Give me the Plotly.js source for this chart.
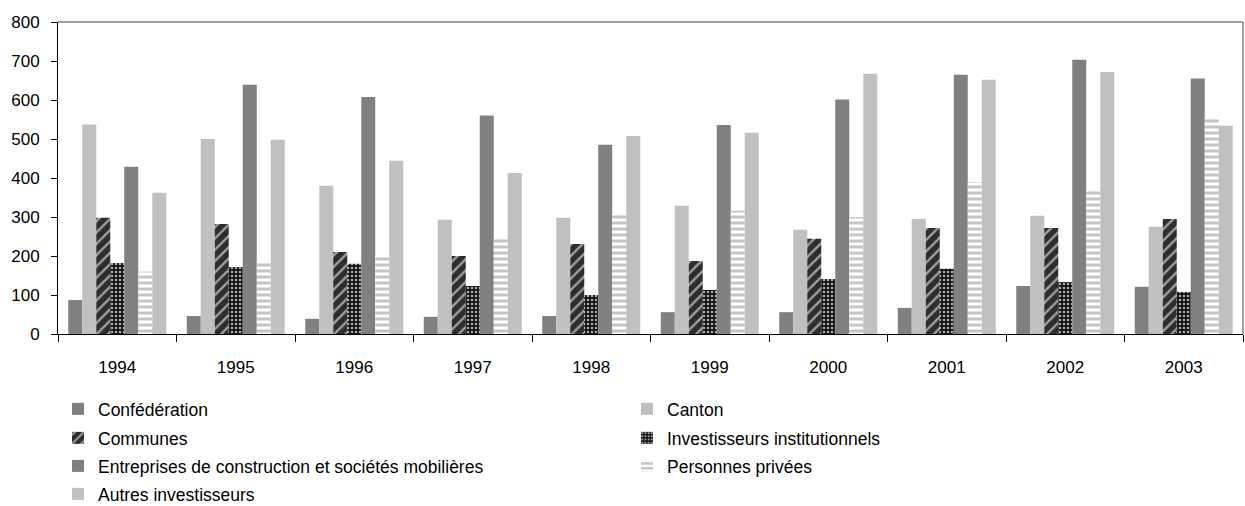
<!DOCTYPE html>
<html>
<head>
<meta charset="utf-8">
<script src="https://cdn.plot.ly/plotly-3.0.1.min.js"></script>
<style>html,body{margin:0;padding:0;background:#fff;}#chart{width:1245px;height:506px;}</style>
</head>
<body>
<div id="chart"></div>
<script>
const years = ['1994','1995','1996','1997','1998','1999','2000','2001','2002','2003'];
const confederation = [87, 46, 39, 44, 46, 56, 56, 67, 123, 121];
const canton = [537, 500, 380, 293, 298, 329, 267, 295, 303, 275];
const communes = [298, 282, 210, 200, 231, 187, 244, 272, 272, 295];
const investisseursInstitutionnels = [182, 172, 180, 123, 100, 113, 141, 167, 133, 108];
const entreprises = [429, 639, 608, 560, 485, 536, 601, 665, 703, 655];
const personnesPrivees = [160, 187, 200, 244, 308, 316, 300, 390, 367, 554];
const autresInvestisseurs = [362, 498, 444, 413, 508, 516, 667, 652, 672, 534];
const seriesNames = ['Confédération','Canton','Communes','Investisseurs institutionnels',
  'Entreprises de construction et sociétés mobilières','Personnes privées','Autres investisseurs'];

const FONT = '"Liberation Sans", Arial, sans-serif';

function bar(name, y, marker, legendId) {
  return {type: 'bar', name: name, x: years, y: y, marker: marker, legend: legendId, hoverinfo: 'x+y+name'};
}
const data = [
  bar(seriesNames[0], confederation, {color: '#808080', line: {width: 0}}, 'legend'),
  bar(seriesNames[1], canton, {color: '#c0c0c0', line: {width: 0}}, 'legend'),
  bar(seriesNames[2], communes, {color: '#2d2d2d', line: {width: 0},
    pattern: {shape: '/', bgcolor: '#2d2d2d', fgcolor: '#a0a0a0', size: 8, solidity: 0.3}}, 'legend2'),
  bar(seriesNames[3], investisseursInstitutionnels, {color: '#111111', line: {width: 0},
    pattern: {shape: '.', bgcolor: '#111111', fgcolor: '#a8a8a8', size: 4, solidity: 0.35}}, 'legend2'),
  bar(seriesNames[4], entreprises, {color: '#808080', line: {width: 0}}, 'legend3'),
  bar(seriesNames[5], personnesPrivees, {color: '#ffffff', line: {width: 0},
    pattern: {shape: '-', bgcolor: '#ffffff', fgcolor: '#c4c4c4', size: 6, solidity: 0.5}}, 'legend3'),
  bar(seriesNames[6], autresInvestisseurs, {color: '#c0c0c0', line: {width: 0}}, 'legend4')
];

function legendAt(y) {
  return {
    orientation: 'h', x: 0, xanchor: 'left', y: y, yanchor: 'top',
    entrywidth: 524, entrywidthmode: 'pixels',
    font: {family: FONT, size: 17.5, color: '#000000'},
    bgcolor: 'rgba(0,0,0,0)', borderwidth: 0, traceorder: 'normal'
  };
}

const layout = {
  width: 1245, height: 506,
  margin: {l: 58, r: 2, t: 22, b: 172, pad: 0, autoexpand: false},
  paper_bgcolor: '#ffffff', plot_bgcolor: '#ffffff',
  font: {family: FONT, size: 17, color: '#000000'},
  barmode: 'group', bargap: 0.173, bargroupgap: 0,
  showlegend: true,
  xaxis: {
    type: 'category', showgrid: false, zeroline: false, automargin: false,
    showline: true, linecolor: '#000000', linewidth: 1,
    ticks: 'outside', ticklen: 7, tickcolor: '#000000', tickwidth: 1,
    tickson: 'boundaries', ticklabelstandoff: 18,
    tickfont: {family: FONT, size: 17, color: '#000000'},
    fixedrange: true
  },
  yaxis: {
    range: [0, 800], dtick: 100, tick0: 0, showgrid: false, zeroline: false, automargin: false,
    showline: true, linecolor: '#000000', linewidth: 1,
    ticks: 'outside', ticklen: 6, tickcolor: '#000000', tickwidth: 1,
    ticklabelstandoff: 8,
    tickfont: {family: FONT, size: 17, color: '#000000'},
    fixedrange: true
  },
  shapes: [
    {type: 'line', xref: 'paper', yref: 'paper', x0: 0, x1: 1, y0: 1, y1: 1, line: {color: '#808080', width: 1.5}},
    {type: 'line', xref: 'paper', yref: 'paper', x0: 1, x1: 1, y0: 0, y1: 1, line: {color: '#808080', width: 1.5}}
  ],
  legend: legendAt(-0.1827),
  legend2: legendAt(-0.2756),
  legend3: legendAt(-0.3654),
  legend4: legendAt(-0.4551)
};

Plotly.newPlot('chart', data, layout, {displayModeBar: false, staticPlot: true});
</script>
</body>
</html>
